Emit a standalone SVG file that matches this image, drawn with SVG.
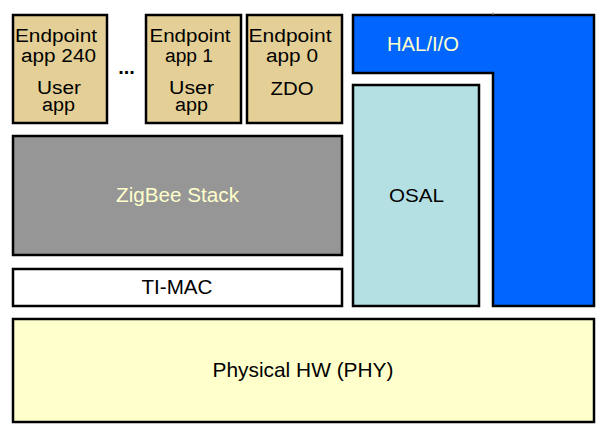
<svg xmlns="http://www.w3.org/2000/svg" width="608" height="435" viewBox="0 0 608 435">
<style>
.box{stroke:#000;stroke-width:2.5;stroke-linejoin:miter}
.ep{fill:#e4d096}
.t{font-family:"Liberation Sans",Arial,sans-serif;font-size:18px;fill:#000;text-anchor:middle}
.big{font-size:20px}
.lt{fill:#ffffcc}
</style>
<rect width="608" height="435" fill="#fff"/>
<g id="ep240">
<rect class="box ep" x="13" y="15" width="94" height="108"/>
<text class="t" x="56" y="41.5" textLength="82" lengthAdjust="spacingAndGlyphs">Endpoint</text>
<text class="t" x="58.5" y="62" textLength="75" lengthAdjust="spacingAndGlyphs">app 240</text>
<text class="t" x="59" y="93.5" textLength="44" lengthAdjust="spacingAndGlyphs">User</text>
<text class="t" x="58.5" y="111" textLength="33" lengthAdjust="spacingAndGlyphs">app</text>
</g>
<g id="ellipsis">
<text class="t" x="126.5" y="74" font-weight="bold" style="font-size:20px">...</text>
</g>
<g id="ep1">
<rect class="box ep" x="146" y="15" width="95" height="108"/>
<text class="t" x="190" y="41.5" textLength="81" lengthAdjust="spacingAndGlyphs">Endpoint</text>
<text class="t" x="189" y="62" textLength="48" lengthAdjust="spacingAndGlyphs">app 1</text>
<text class="t" x="191.5" y="93.5" textLength="45" lengthAdjust="spacingAndGlyphs">User</text>
<text class="t" x="191.5" y="111" textLength="33" lengthAdjust="spacingAndGlyphs">app</text>
</g>
<g id="ep0">
<rect class="box ep" x="247" y="15" width="95" height="108"/>
<text class="t" x="290" y="41.5" textLength="83" lengthAdjust="spacingAndGlyphs">Endpoint</text>
<text class="t" x="292" y="62" textLength="52" lengthAdjust="spacingAndGlyphs">app 0</text>
<text class="t" x="292" y="94.5" textLength="43" lengthAdjust="spacingAndGlyphs">ZDO</text>
</g>
<g id="zigbee">
<rect class="box" x="13" y="136" width="329" height="119" fill="#969696"/>
<text class="t big lt" x="177.5" y="201.5" textLength="123" lengthAdjust="spacingAndGlyphs">ZigBee Stack</text>
</g>
<g id="timac">
<rect class="box" x="13" y="269" width="329" height="37" fill="#fff"/>
<text class="t big" x="177" y="294" textLength="71" lengthAdjust="spacingAndGlyphs">TI-MAC</text>
</g>
<g id="osal">
<rect class="box" x="353" y="85" width="126" height="221" fill="#b5e0e3"/>
<text class="t" x="416.5" y="201.5" style="font-size:19px" textLength="55" lengthAdjust="spacingAndGlyphs">OSAL</text>
</g>
<g id="hal">
<path class="box" d="M353,15 H594 V306 H493 V73 H353 Z" fill="#0066ff"/>
<line x1="493" y1="12.5" x2="493" y2="15" stroke="#777" stroke-width="1"/>
<text class="t big lt" x="387" y="50.5" style="text-anchor:start" textLength="72" lengthAdjust="spacingAndGlyphs">HAL/I/O</text>
</g>
<g id="phy">
<rect class="box" x="13" y="319" width="581" height="103" fill="#ffffcc"/>
<text class="t" x="303" y="376.5" style="font-size:21px" textLength="181" lengthAdjust="spacingAndGlyphs">Physical HW (PHY)</text>
</g>
<g id="connectors"></g>
</svg>
